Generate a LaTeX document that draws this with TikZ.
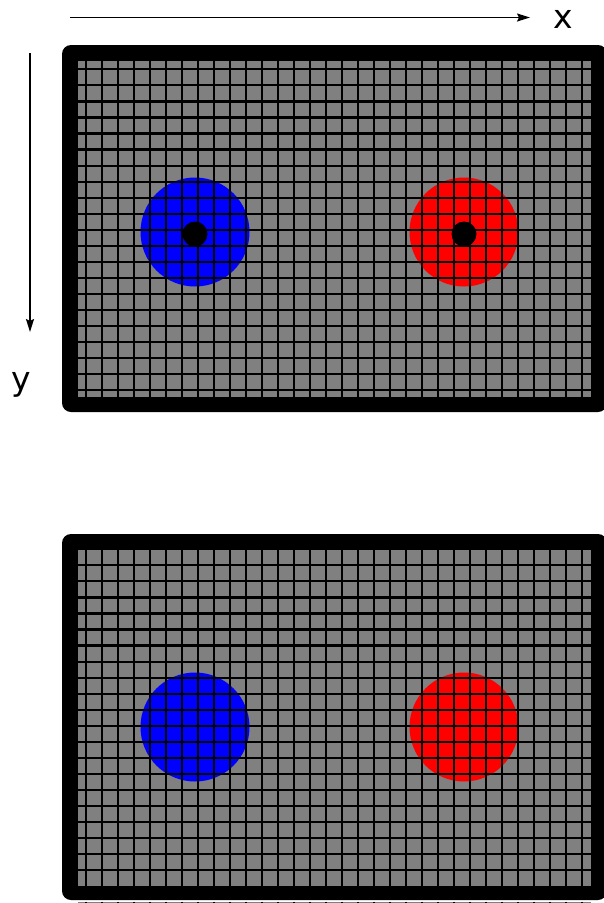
\documentclass[tikz,border=0pt]{standalone}
\usepackage{fontspec}
\setmainfont{DejaVu Sans}
\usetikzlibrary{arrows.meta, positioning}
\definecolor{cellgray}{HTML}{808080}

\begin{document}
\begin{tikzpicture}[x=1pt, y=-1pt,
      frame/.style={fill=black, rounded corners=9pt},
      gridline/.style={line width=2.2pt, black},
      disc/.style={circle, inner sep=0pt, minimum size=#1},
      axis/.style={-{Stealth[length=13pt, width=8pt, inset=2pt]}, line width=1.6pt},
      lab/.style={font=\fontsize{33}{40}\selectfont, inner sep=0pt, anchor=base}]
    \useasboundingbox (0,0) rectangle (603,903);

    % axes
    \coordinate (xfrom) at (70,17.5);
    \coordinate (xto) at (530,17.5);
    \coordinate (yfrom) at (30,53);
    \coordinate (yto) at (30,332);
    \draw[axis] (xfrom) -- (xto);
    \draw[axis] (yfrom) -- (yto);
    \node[lab] (xlab) at (563,28) {x};
    \node[lab] (ylab) at (21,390) {y};

    % top panel
    \fill[frame] (62,45) rectangle (607,412);
    \fill[cellgray] (78,61) rectangle (591,397);
    \node[disc=109pt, fill=blue] (blueA) at (195,232) {};
    \node[disc=109pt, fill=red] (redA) at (464,232) {};
    \foreach \i in {0,...,31}
      \draw[gridline] ({86+16*\i},61) -- ({86+16*\i},397);
    \foreach \j in {0,...,20}
      \draw[gridline] (78,{69.3+16.05*\j}) -- (591,{69.3+16.05*\j});
    \node[disc=25pt, fill=black] (dotA) at (195,234) {};
    \node[disc=25pt, fill=black] (dotB) at (464,234) {};

    % bottom panel
    \fill[frame] (62,534) rectangle (607,900);
    \fill[cellgray] (78,550) rectangle (591,886);
    \node[disc=109pt, fill=blue] (blueB) at (195,727) {};
    \node[disc=109pt, fill=red] (redB) at (464,727) {};
    \foreach \i in {0,...,31}
      \draw[gridline] ({86+16*\i},550) -- ({86+16*\i},886);
    \foreach \j in {0,...,19}
      \draw[gridline] (78,{565.3+16.05*\j}) -- (591,{565.3+16.05*\j});

    % strip below
    \fill[cellgray] (78,901.5) rectangle (591,904);
    \foreach \i in {0,...,31}
      \draw[gridline] ({86+16*\i},901.5) -- ({86+16*\i},904);
  \end{tikzpicture}
\end{document}
